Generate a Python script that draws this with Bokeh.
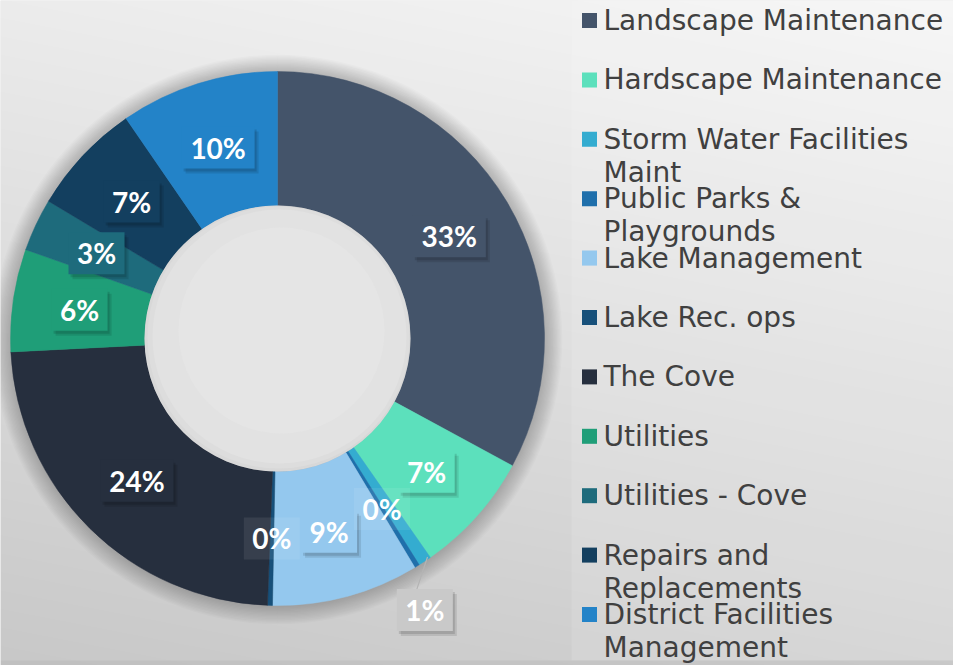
import numpy as np
from bokeh.plotting import figure, ColumnDataSource
from bokeh.core.properties import value
from bokeh.embed import file_html
from bokeh.resources import INLINE

# ---------------- data ----------------
categories = ["Landscape Maintenance", "Hardscape Maintenance", "Storm Water Facilities Maint",
              "Public Parks & Playgrounds", "Lake Management", "Lake Rec. ops", "The Cove",
              "Utilities", "Utilities - Cove", "Repairs and Replacements",
              "District Facilities Management"]
shares = [32.9, 7.4, 0.8, 0.3, 8.9, 0.3, 23.6, 6.2, 3.2, 6.8, 9.6]
colors = ["#44546a", "#5ce0bc", "#34acd0", "#1f6fab", "#94c8ee", "#17507a",
          "#262f3e", "#1f9e78", "#1e6b7c", "#133f5f", "#2383c8"]

W, H = 953, 665


def Y(py):
    return H - py


p = figure(width=W, height=H, x_range=(0, W), y_range=(0, H),
           x_axis_type=None, y_axis_type=None, toolbar_location=None,
           output_backend="svg", min_border=0)
p.outline_line_color = None
p.grid.visible = False
p.background_fill_color = "#e6e6e6"
p.border_fill_color = "#e6e6e6"

# background gradient
gx, gy = np.meshgrid(np.arange(W), np.arange(H))
py = H - gy
v = 246 - 36 * (py / H) - 10 * (1 - gx / W)
img = np.zeros((H, W), dtype=np.uint32)
view = img.view(dtype=np.uint8).reshape((H, W, 4))
vv = np.clip(v, 0, 255).astype(np.uint8)
view[:, :, 0] = vv
view[:, :, 1] = vv
view[:, :, 2] = vv
view[:, :, 3] = 255
p.image_rgba(image=[img], x=0, y=0, dw=W, dh=H)

# legend panel
p.quad(left=571, right=W, top=Y(0), bottom=Y(660), fill_color="white", fill_alpha=0.12,
       line_color=None)
p.quad(left=0, right=W, top=Y(660), bottom=Y(665), fill_color="black", fill_alpha=0.04,
       line_color=None)

cx, cy = 277, Y(338)
R_OUT, R_IN = 267, 133

# soft shadow around ring
for i in range(14):
    p.circle(x=cx, y=cy - 1, radius=R_OUT + 1 + i * 1.3, fill_color="black",
             fill_alpha=0.016, line_color=None)

total = sum(shares)
cum = np.concatenate([[0], np.cumsum(shares)]) / total
starts = np.pi / 2 - 2 * np.pi * cum[:-1]
ends = np.pi / 2 - 2 * np.pi * cum[1:]
src = ColumnDataSource(dict(start=starts, end=ends, color=colors, name=categories))
p.annular_wedge(x=cx, y=cy, inner_radius=R_IN, outer_radius=R_OUT, start_angle="start",
                end_angle="end", direction="clock", fill_color="color", line_color="color",
                line_width=0.5, source=src)

# hole
p.circle(x=cx, y=cy, radius=R_IN, fill_color="#d8d8d8", line_color=None)
p.circle(x=cx + 1, y=cy + 1, radius=R_IN - 2, fill_color="#dddddd", line_color=None)
p.circle(x=cx + 2, y=cy + 2, radius=R_IN - 6, fill_color="#e2e2e2", line_color=None)
p.circle(x=cx + 4, y=cy + 8, radius=R_IN - 30, fill_color="#e5e5e5", line_color=None)

# data labels
mids = 2 * np.pi * (cum[:-1] + cum[1:]) / 2
big = dict(x=[], y=[], t=[], w=[], c=[])
small = dict(x=[], y=[], t=[], w=[])
outer = dict(x=[], y=[], t=[], w=[], c=[])
lead = None
for i, s in enumerate(shares):
    txt = f"{round(s)}%"
    a = mids[i]
    r = (R_OUT + R_IN) / 2
    w = 22 + 17 * len(txt)
    if 0.5 <= s < 1.5:  # outside label with leader line
        a2 = a + np.radians(5)
        r2 = R_OUT + 42
        x = cx + r2 * np.sin(a2)
        y = cy + r2 * np.cos(a2)
        ex = cx + (R_OUT - 2) * np.sin(a - np.radians(1.0))
        ey = cy + (R_OUT - 2) * np.cos(a - np.radians(1.0))
        lead = ([x - 8, ex], [y + 21, ey])
        for k, val in zip(["x", "y", "t", "w", "c"], [x, y, txt, w, "#c9c9c9"]):
            outer[k].append(val)
        continue
    x = cx + r * np.sin(a)
    y = cy + r * np.cos(a)
    if s < 0.5:
        for k, val in zip(["x", "y", "t", "w"], [x, y, txt, w]):
            small[k].append(val)
    else:
        for k, val in zip(["x", "y", "t", "w", "c"], [x, y, txt, w, colors[i]]):
            big[k].append(val)

if lead is not None:
    p.line(x=lead[0], y=lead[1], line_color="#b4b4b4", line_width=1.2)

for d in (big, outer):
    d["sx1"] = [x + 2 for x in d["x"]]
    d["sy1"] = [y - 3 for y in d["y"]]
    d["sx2"] = [x + 4 for x in d["x"]]
    d["sy2"] = [y - 5 for y in d["y"]]
    s_ = ColumnDataSource(d)
    p.rect(x="sx2", y="sy2", width="w", height=42, fill_color="black", fill_alpha=0.10,
           line_color=None, source=s_)
    p.rect(x="sx1", y="sy1", width="w", height=42, fill_color="black", fill_alpha=0.12,
           line_color=None, source=s_)
    p.rect(x="x", y="y", width="w", height=42, fill_color="c", line_color=None, source=s_)
    p.text(x="x", y="y", text="t", text_align="center", text_baseline="middle",
           text_font=value("Lato"), text_font_style="bold", text_font_size="28px",
           text_color="white", source=s_)

ss = ColumnDataSource(small)
p.rect(x="x", y="y", width="w", height=42, fill_color="white", fill_alpha=0.08,
       line_color=None, source=ss)
p.text(x="x", y="y", text="t", text_align="center", text_baseline="middle",
       text_font=value("Lato"), text_font_style="bold", text_font_size="28px",
       text_color="white", source=ss)


# legend
def wrap(name, width=22):
    words = name.split(" ")
    lines, cur = [], ""
    for w_ in words:
        if cur and len(cur) + 1 + len(w_) > width:
            lines.append(cur)
            cur = w_
        else:
            cur = (cur + " " + w_) if cur else w_
    lines.append(cur)
    return lines


sq_y, tx, ty, tt = [], [], [], []
for i, name in enumerate(categories):
    row = 20 + 59.4 * i
    sq_y.append(Y(row))
    for j, line in enumerate(wrap(name)):
        tx.append(603)
        ty.append(Y(row + 33 * j))
        tt.append(line)

p.rect(x=589, y=sq_y, width=15, height=15, fill_color=colors, line_color=None)
p.text(x=tx, y=ty, text=tt, text_align="left", text_baseline="middle",
       text_font=value("DejaVu Sans"), text_font_size="28px", text_color="#404040")

open("out.html", "w").write(file_html(p, INLINE))
